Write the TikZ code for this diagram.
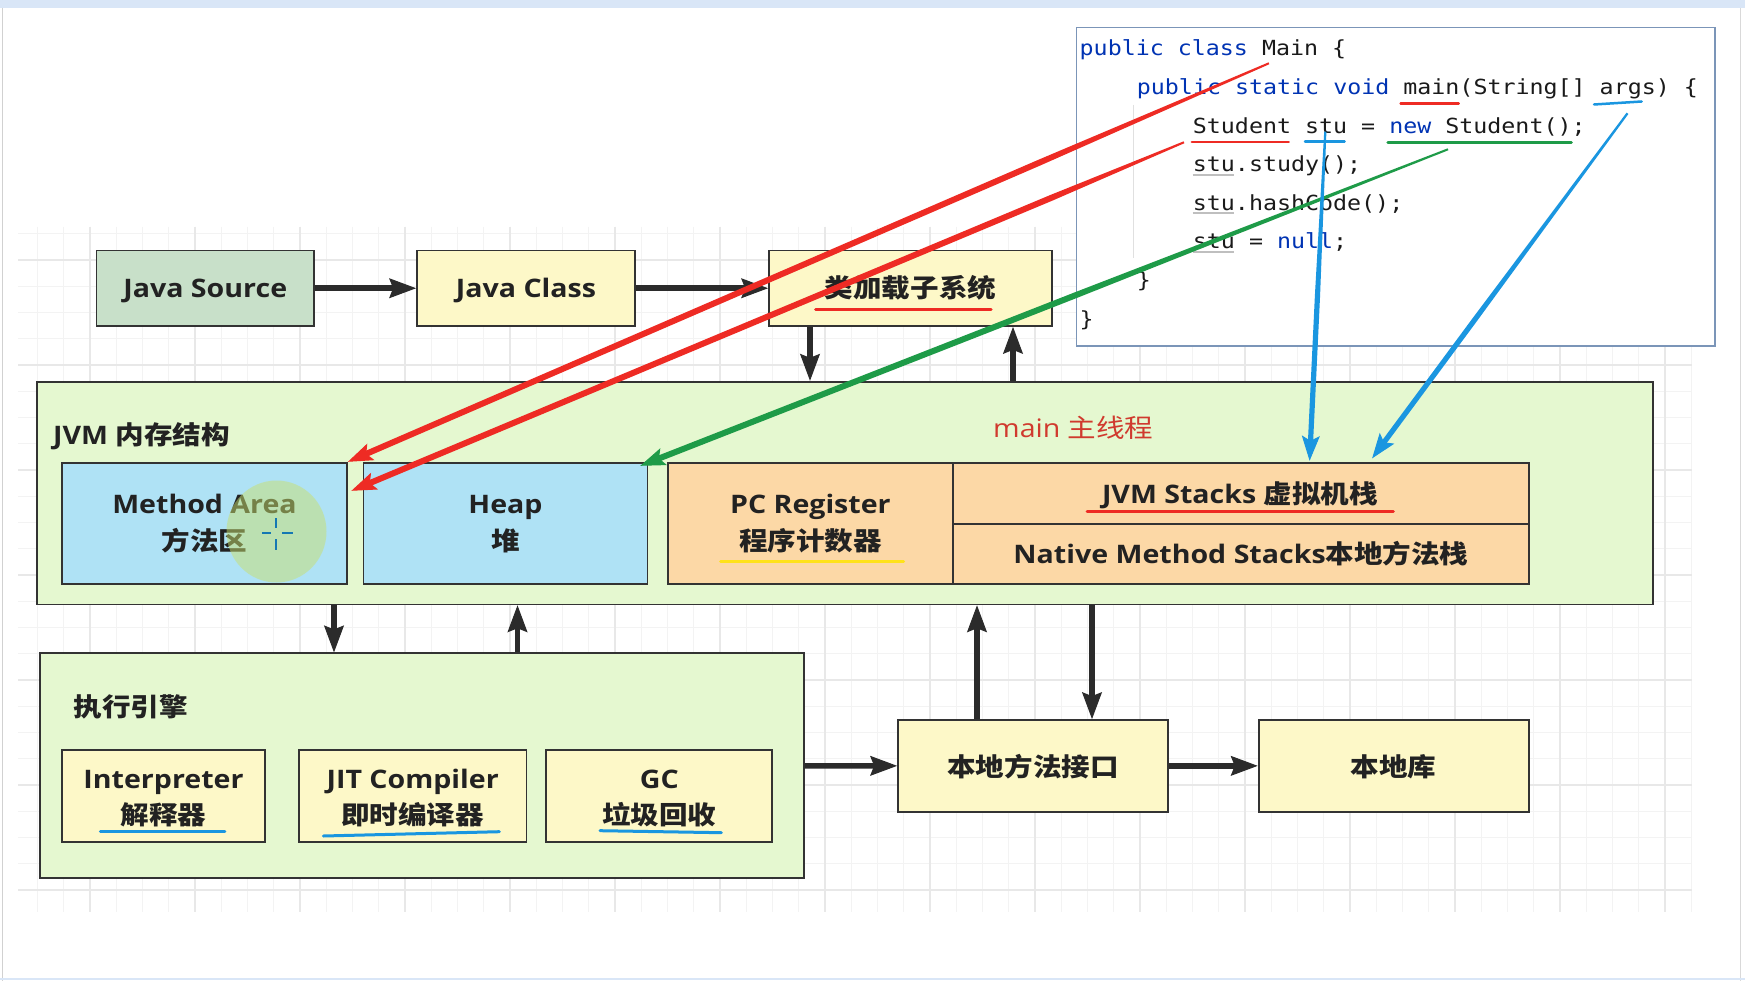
\documentclass[tikz,border=0pt]{standalone}
\usepackage{fontspec}
\usetikzlibrary{arrows.meta,calc}
\newfontfamily\latf{Open Sans}[FakeStretch=1.12]
\newfontfamily\cjkf{Noto Sans CJK SC}[FakeStretch=1.12]
\newfontfamily\codef{DejaVu Sans Mono}[FakeStretch=1.12]
\definecolor{bord}{HTML}{333333}
\definecolor{arrowc}{HTML}{2B2B2B}
\definecolor{txtc}{HTML}{222222}
\definecolor{srcg}{HTML}{C8E0C9}
\definecolor{yel}{HTML}{FDF8C8}
\definecolor{lgreen}{HTML}{E5F8D0}
\definecolor{lblue}{HTML}{AFE2F5}
\definecolor{lorange}{HTML}{FCD8A6}
\definecolor{codeb}{HTML}{7B95B8}
\definecolor{kwc}{HTML}{0033B3}
\definecolor{codec}{HTML}{1A1A1A}
\definecolor{annred}{HTML}{EE2B24}
\definecolor{anngreen}{HTML}{1E9B48}
\definecolor{annblue}{HTML}{1A96E0}
\definecolor{annyel}{HTML}{FFE21A}
\definecolor{mainred}{HTML}{D03A2E}
\definecolor{gridmin}{HTML}{F3F3F3}
\definecolor{gridmaj}{HTML}{E8E8E8}
\definecolor{topband}{HTML}{D9E6F7}
\newcommand\latb[1]{{\latf\bfseries #1}}
\newcommand\cjkb[1]{{\cjkf\bfseries #1}}
\newcommand\kw[1]{\textcolor{kwc}{#1}}
\newcommand\bfs{\fontsize{25.5}{30}\selectfont}
% colour, start, fraction where the taper ends, tip, start half-width, full half-width
\newcommand\annarrow[6]{%
  \coordinate (tmpe) at ($(#4)!14pt!(#2)$);
  \coordinate (tmpm) at ($(#2)!#3!(#4)$);
  \fill[#1] ($(#2)!#5!90:(tmpe)$) -- ($(tmpm)!#6!90:(tmpe)$) -- ($(tmpe)!#6!-90:(#2)$) -- ($(tmpe)!#6!90:(#2)$) -- ($(tmpm)!#6!-90:(tmpe)$) -- ($(#2)!#5!-90:(tmpe)$) -- cycle;
  \draw[#1, line width=1pt, -{Stealth[length=25pt,width=18pt,inset=5pt]}] ($(#4)!30pt!(#2)$) -- (#4);
}
\tikzset{
  box/.style={draw=bord, line width=1.8pt, inner sep=0pt},
  blk/.style={draw=arrowc, line width=5.5pt, -{Stealth[length=27pt,width=20pt,inset=4pt,line width=1pt]}},
  lbl/.style={inner sep=0pt, anchor=base, text=txtc, font=\bfs},
  code/.style={inner sep=0pt, anchor=base west, text=codec, font={\codef\fontsize{20.8}{24}\selectfont}},
  ul/.style={line width=3pt, line cap=round},
  gmin/.style={draw=gridmin, line width=1pt},
  gmaj/.style={draw=gridmaj, line width=1.5pt},
}
\begin{document}
\begin{tikzpicture}[x=1pt,y=-1pt]
\useasboundingbox (0,0) rectangle (1745,981);
\fill[white] (0,0) rectangle (1745,981);
% screen frame
\fill[topband] (0,0) rectangle (1745,8);
\draw[draw=black!18, line width=1pt] (2.5,8) -- (2.5,981);
\draw[draw=black!15, line width=1pt] (1740,8) -- (1740,981);
\draw[draw=topband, line width=2pt] (0,979) -- (1745,979);
% grid
\foreach \i in {-2,...,61} \draw[gmin] ({90+26.25*\i},227) -- ({90+26.25*\i},912);
\foreach \j in {-1,...,24} \draw[gmin] (18,{260+26.25*\j}) -- (1692,{260+26.25*\j});
\foreach \i in {0,...,15} \draw[gmaj] ({90+105*\i},227) -- ({90+105*\i},912);
\foreach \j in {0,...,6} \draw[gmaj] (18,{260+105*\j}) -- (1692,{260+105*\j});

% boxes
\node[box, fill=srcg, minimum width=217.5pt, minimum height=75.5pt] (js) at (205.25,288.25) {};
\node[box, fill=yel, minimum width=218pt, minimum height=75.5pt] (jc) at (526,288.25) {};
\node[box, fill=yel, minimum width=283pt, minimum height=75.5pt] (cl) at (910.5,288.25) {};
\node[box, fill=lgreen, minimum width=1616.1pt, minimum height=222.7pt] (jvm) at (844.75,493.05) {};
\node[box, fill=lblue, minimum width=285pt, minimum height=121.3pt] (ma) at (204.5,523.35) {};
\node[box, fill=lblue, minimum width=283.9pt, minimum height=121.3pt] (heap) at (505.45,523.35) {};
\node[box, fill=lorange, minimum width=285.3pt, minimum height=121.3pt] (pc) at (810.35,523.35) {};
\node[box, fill=lorange, minimum width=575.6pt, minimum height=61.3pt] (jst) at (1240.8,493.35) {};
\node[box, fill=lorange, minimum width=575.6pt, minimum height=60pt] (nms) at (1240.8,554) {};
\node[box, fill=lgreen, minimum width=763.8pt, minimum height=225pt] (exec) at (422.1,765.8) {};
\node[box, fill=yel, minimum width=203pt, minimum height=92.3pt] (interp) at (163.5,796.15) {};
\node[box, fill=yel, minimum width=227.4pt, minimum height=92.3pt] (jit) at (412.7,796.15) {};
\node[box, fill=yel, minimum width=226pt, minimum height=92.3pt] (gc) at (659.3,796.15) {};
\node[box, fill=yel, minimum width=270pt, minimum height=91.7pt] (nmi) at (1033,765.85) {};
\node[box, fill=yel, minimum width=270pt, minimum height=91.7pt] (lib) at (1393.6,765.85) {};

% black connectors
\coordinate (xa) at (810,0);
\coordinate (xb) at (1013,0);
\coordinate (xc) at (334,0);
\coordinate (xd) at (517.5,0);
\coordinate (xe) at (977,0);
\coordinate (xf) at (1092,0);
\draw[blk] (js.east) -- (jc.west);
\draw[blk] (jc.east) -- (cl.west);
\draw[blk] (cl.south -| xa) -- (jvm.north -| xa);
\draw[blk] (jvm.north -| xb) -- (cl.south -| xb);
\draw[blk] (jvm.south -| xc) -- (exec.north -| xc);
\draw[blk] (exec.north -| xd) -- (jvm.south -| xd);
\draw[blk] (nmi.north -| xe) -- (jvm.south -| xe);
\draw[blk] (jvm.south -| xf) -- (nmi.north -| xf);
\draw[blk] (exec.east) -- (nmi.west);
\draw[blk] (nmi.east) -- (lib.west);

% labels
\node[lbl] (tjs) at (205.25,297.7) {\latb{Java Source}};
\node[lbl] (tjc) at (526,297.7) {\latb{Java Class}};
\node[lbl] (tcl) at (910.5,297.5) {\cjkb{类加载子系统}};
\node[lbl, anchor=base west] (tjvm) at (53,444) {\latb{JVM }\cjkb{内存结构}};
\node[lbl, anchor=base west, text=mainred] (tmain) at (993,437.7) {{\latf main }{\cjkf 主线程}};
\node[lbl] (tma1) at (204.5,513.3) {\latb{Method Area}};
\node[lbl] (tma2) at (204.5,550) {\cjkb{方法区}};
\node[lbl] (th1) at (505.45,513.3) {\latb{Heap}};
\node[lbl] (th2) at (505.45,550) {\cjkb{堆}};
\node[lbl] (tpc1) at (810.4,513.3) {\latb{PC Register}};
\node[lbl] (tpc2) at (810.4,550) {\cjkb{程序计数器}};
\node[lbl] (tjst) at (1240,503.3) {\latb{JVM Stacks }\cjkb{虚拟机栈}};
\node[lbl] (tnms) at (1241,563.3) {\latb{Native Method Stacks}\cjkb{本地方法栈}};
\node[lbl, anchor=base west] (texec) at (73.4,716) {\cjkb{执行引擎}};
\node[lbl] (ti1) at (163.5,788) {\latb{Interpreter}};
\node[lbl] (ti2) at (163.5,824) {\cjkb{解释器}};
\node[lbl] (tj1) at (412.7,788) {\latb{JIT Compiler}};
\node[lbl] (tj2) at (412.7,824) {\cjkb{即时编译器}};
\node[lbl] (tg1) at (659.3,788) {\latb{GC}};
\node[lbl] (tg2) at (659.3,824) {\cjkb{垃圾回收}};
\node[lbl] (tnmi) at (1033,776.7) {\cjkb{本地方法接口}};
\node[lbl] (tlib) at (1393.6,776.7) {\cjkb{本地库}};

% underlines in diagram
\draw[ul, annred] (815.7,309.3) -- (991,309.3);
\draw[ul, annred] (1087,511.7) -- (1393.4,511.7);
\draw[ul, annyel] (720.6,561.7) -- (903.6,561.7);
\draw[ul, annblue] (100.4,831.7) -- (224.9,831.7);
\draw[ul, annblue] (323.4,836) -- (499.4,831.7);
\draw[ul, annblue] (600,830.7) -- (721.3,832.7);

% cursor highlight
\fill[fill={rgb,255:red,200;green,224;blue,110}, fill opacity=0.5] (276.5,531.5) ellipse [x radius=50pt, y radius=51pt];
\draw[draw=annblue!80!black, line width=2pt] (276.4,518) -- (276.4,528) (276.4,539) -- (276.4,550) (262,533.3) -- (271,533.3) (282,533.3) -- (293,533.3);

% code box
\node[draw=codeb, line width=1.5pt, fill=white, inner sep=0pt, minimum width=638.5pt, minimum height=318.7pt] (codebox) at (1395.75,186.65) {};
\draw[draw=black!12, line width=1pt] (1133.7,105) -- (1133.7,258);
\node[code] (c1) at (1079.5,56) {\kw{public class} Main \{};
\node[code] (c2) at (1136.7,94.6) {\kw{public static void} main(String[] args) \{};
\node[code] (c3) at (1192.7,133.2) {Student stu = \kw{new} Student();};
\node[code] (c4) at (1192.7,171.8) {stu.study();};
\node[code] (c5) at (1192.7,210.4) {stu.hashCode();};
\node[code] (c6) at (1192.7,249) {stu = \kw{null};};
\node[code] (c7) at (1136.7,287.6) {\}};
\node[code] (c8) at (1079.5,326.2) {\}};
% code underlines
\draw[ul, line width=2.5pt, annred] (1400.6,103.3) -- (1458.7,103.3);
\draw[ul, line width=2.5pt, annblue] (1594,104.5) -- (1641.7,101.5);
\draw[ul, line width=2.5pt, annred] (1191.8,142) -- (1288.7,142);
\draw[ul, line width=2.5pt, annblue] (1305,141.3) -- (1344.6,141.3);
\draw[ul, line width=2.5pt, anngreen] (1387.7,142.7) -- (1571.5,142.7);
\foreach \yy in {175,212.7,251.7} \draw[draw=black!25, line width=1.8pt] (1192.7,\yy) -- (1233.6,\yy);

% annotation arrows
\coordinate (r1s) at (1268.9,63.3);
\coordinate (r2s) at (1184,142.3);
\coordinate (gs) at (1448,149.3);
\coordinate (b1s) at (1325.3,131.7);
\coordinate (b2s) at (1627.5,113.3);
\coordinate (r2e) at ($(ma.north east)+(3.5,29)$);
\coordinate (ge) at ($(heap.north east)+(-8,4)$);
\coordinate (b1e) at ($(jst.north west)+(357.5,-1)$);
\coordinate (b2e) at ($(jst.north west)+(420,-3.4)$);
\annarrow{annred}{r1s}{0.25}{ma.north east}{1pt}{3pt}
\annarrow{annred}{r2s}{0.16}{r2e}{1pt}{3pt}
\annarrow{anngreen}{gs}{0.46}{ge}{1pt}{3pt}
\annarrow{annblue}{b1s}{0.5}{b1e}{1.1pt}{2.6pt}
\annarrow{annblue}{b2s}{0.6}{b2e}{1.1pt}{2.6pt}
\end{tikzpicture}
\end{document}
